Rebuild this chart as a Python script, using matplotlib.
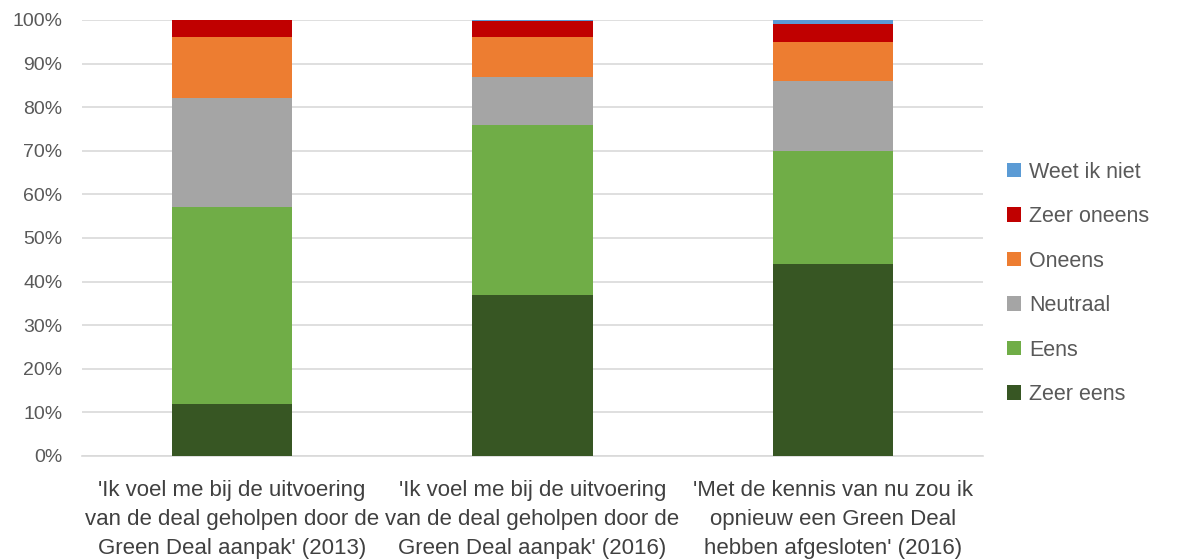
import numpy as np
import matplotlib.pyplot as plt
import matplotlib

matplotlib.rcParams.update({
    "font.family": ["Liberation Sans", "DejaVu Sans"],
    "font.size": 12,
})

CATEGORIES = [
    "'Ik voel me bij de uitvoering\nvan de deal geholpen door de\nGreen Deal aanpak' (2013)",
    "'Ik voel me bij de uitvoering\nvan de deal geholpen door de\nGreen Deal aanpak' (2016)",
    "'Met de kennis van nu zou ik\nopnieuw een Green Deal\nhebben afgesloten' (2016)",
]

SERIES = ["Zeer eens", "Eens", "Neutraal", "Oneens", "Zeer oneens", "Weet ik niet"]

zeer_eens = [12, 37, 44]
eens = [45, 39, 26]
neutraal = [25, 11, 16]
oneens = [14, 9, 9]
zeer_oneens = [4, 3.7, 4]
weet_ik_niet = [0, 0.3, 1]

COLORS = ["#375623", "#70ad47", "#a5a5a5", "#ed7d31", "#c00000", "#5b9bd5"]

values = [zeer_eens, eens, neutraal, oneens, zeer_oneens, weet_ik_niet]

fig = plt.figure(figsize=(11.81, 5.6), dpi=100)
ax = fig.add_axes([82 / 1181, 1 - 456 / 560, 901 / 1181, 436 / 560])

x = np.arange(len(CATEGORIES))
bottom = np.zeros(len(CATEGORIES))
handles = []
for name, vals, col in zip(SERIES, values, COLORS):
    vals = np.array(vals, dtype=float)
    h = ax.bar(x, vals, 0.4, bottom=bottom, color=col, label=name, zorder=3)
    handles.append(h)
    bottom += vals

ax.set_xlim(-0.5, 2.5)
ax.set_ylim(0, 100)
ax.set_yticks(np.arange(0, 101, 10))
ax.set_yticklabels([f"{v}%" for v in range(0, 101, 10)])
ax.set_xticks(x)
ax.set_xticklabels(CATEGORIES, fontsize=16, color="#404040", linespacing=1.5)
ax.tick_params(axis="y", labelsize=14, colors="#595959", length=0, pad=14)
ax.tick_params(axis="x", length=0, pad=17)
ax.yaxis.grid(True, color="#d9d9d9", linewidth=1.2, zorder=0)
ax.set_axisbelow(True)
for s in ["top", "right", "left"]:
    ax.spines[s].set_visible(False)
ax.spines["bottom"].set_color("#d9d9d9")
ax.spines["bottom"].set_linewidth(1.2)

fig.legend(handles[::-1], SERIES[::-1], loc="center left",
           bbox_to_anchor=(0.836, 0.494), frameon=False,
           fontsize=15.5, labelspacing=1.09, handlelength=0.65,
           handleheight=0.65, handletextpad=0.4, labelcolor="#595959")

fig.savefig("out.png", dpi=100)
